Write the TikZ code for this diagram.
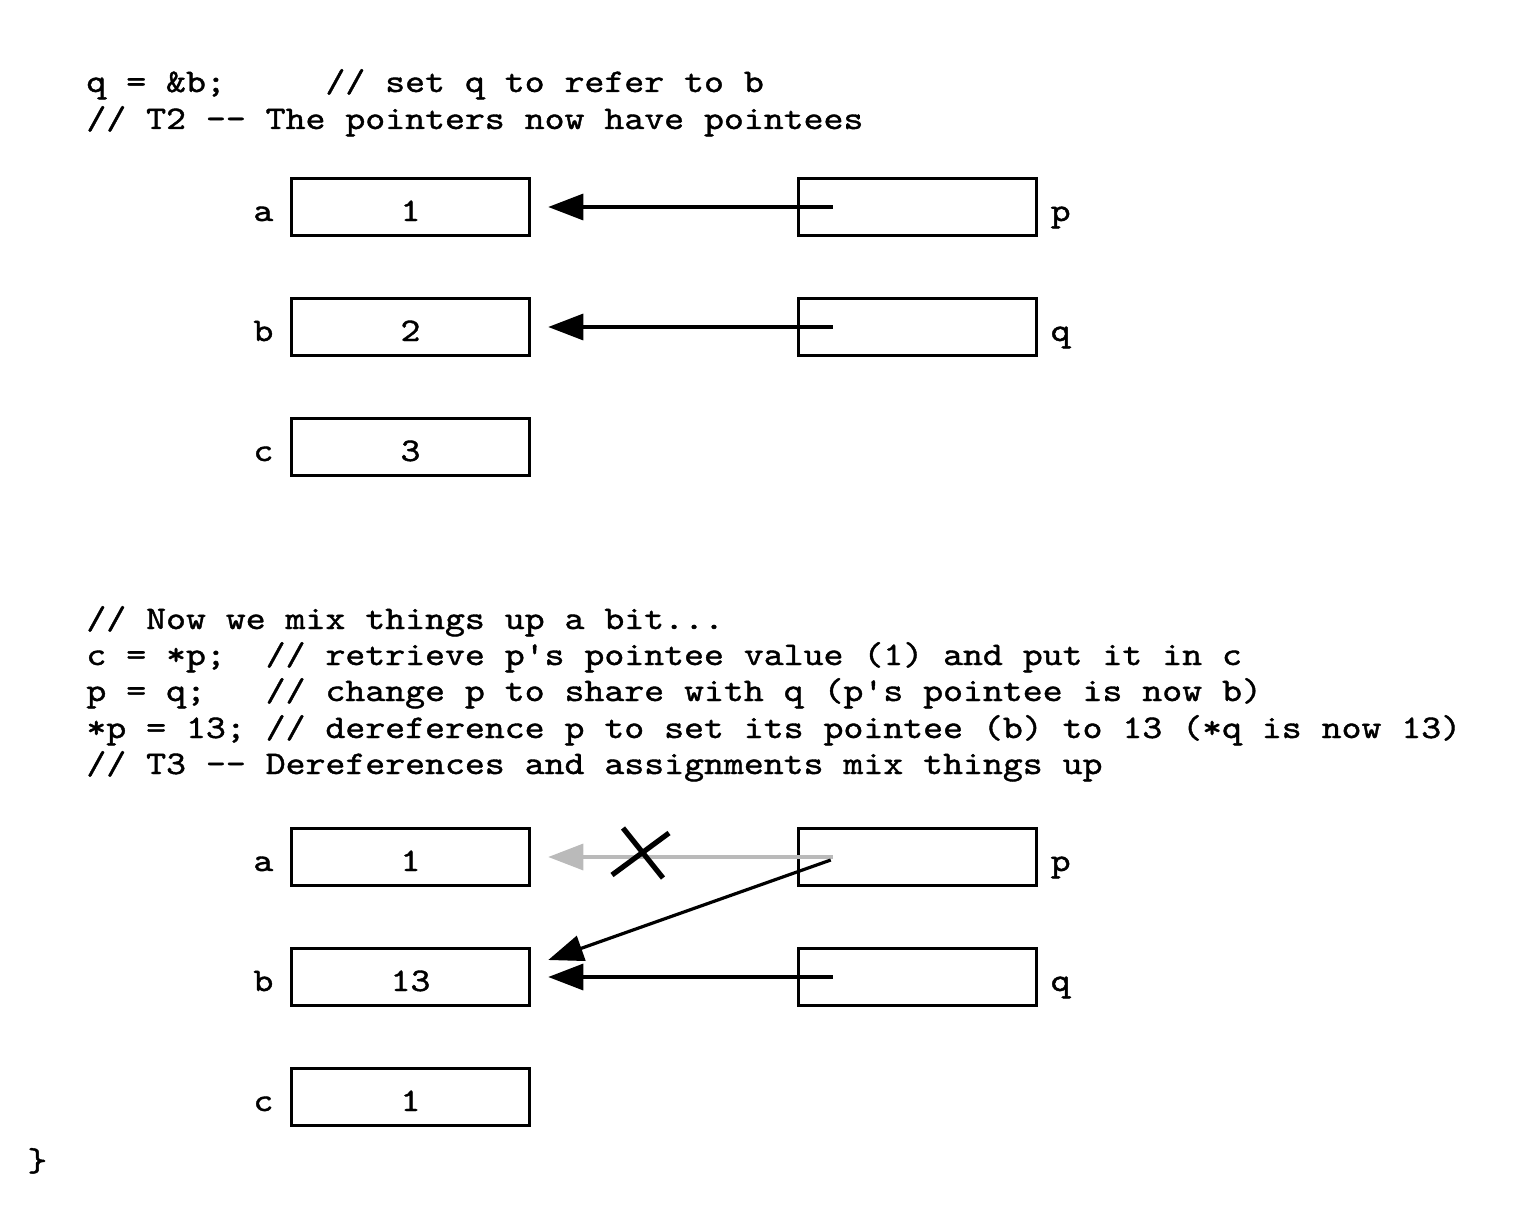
\documentclass[tikz,border=0pt]{standalone}
\usepackage{fontspec}
\setmonofont{lmmono10-regular.otf}[FakeBold=1.2, FakeStretch=1.15]
\usetikzlibrary{arrows.meta,positioning}

\tikzset{
  cell/.style={draw, line width=1.75pt, minimum width=119pt, minimum height=28.5pt,
    inner sep=0pt, text height=14pt, text depth=0pt},
  varname/.style={inner sep=0pt, text height=14pt, text depth=0pt},
  code/.style={anchor=base west, inner sep=0pt},
  ptr/.style={line width=1.6pt, -{Triangle[length=17.5pt,width=13pt]}},
}

\begin{document}
\begin{tikzpicture}[x=0.5pt, y=-0.5pt, font=\ttfamily\fontsize{16.5}{18}\selectfont]
    \useasboundingbox (0,0) rectangle (1514,1214);

    % Parameters
    \def\leftx{410.5}
    \def\rightx{917.5}

    % Code, first part
    \node[code] (line1) at (86,92) {q = \&b;~~~~~// set q to refer to b};
    \node[code] (line2) at (86,129) {// T2 -{}- The pointers now have pointees};

    % Memory at T2
    \node[cell] (a1) at (\leftx,207) {1};
    \node[cell] (b1) at (\leftx,327) {2};
    \node[cell] (c1) at (\leftx,447) {3};
    \node[cell] (p1) at (\rightx,207) {};
    \node[cell] (q1) at (\rightx,327) {};

    \node[varname, left=8pt of a1] (na1) {a};
    \node[varname, left=8pt of b1] (nb1) {b};
    \node[varname, left=8pt of c1] (nc1) {c};
    \node[varname, right=6pt of p1] (np1) {p};
    \node[varname, right=6pt of q1] (nq1) {q};

    % Pointers at T2
    \coordinate (p1tail) at ([xshift=18pt]p1.west);
    \coordinate (q1tail) at ([xshift=18pt]q1.west);
    \draw[ptr] (p1tail) -- ([xshift=8.5pt]a1.east);
    \draw[ptr] (q1tail) -- ([xshift=8.5pt]b1.east);

    % Code, second part
    \node[code] (line3) at (86,629) {// Now we mix things up a bit...};
    \node[code] (line4) at (86,665) {c = *p;~~// retrieve p's pointee value (1) and put it in c};
    \node[code] (line5) at (86,701) {p = q;~~~// change p to share with q (p's pointee is now b)};
    \node[code] (line6) at (86,738) {*p = 13; // dereference p to set its pointee (b) to 13 (*q is now 13)};
    \node[code] (line7) at (86,774) {// T3 -{}- Dereferences and assignments mix things up};

    % Memory at T3
    \node[cell] (a2) at (\leftx,857) {1};
    \node[cell] (b2) at (\leftx,977) {13};
    \node[cell] (c2) at (\leftx,1097) {1};
    \node[cell] (p2) at (\rightx,857) {};
    \node[cell] (q2) at (\rightx,977) {};

    \node[varname, left=8pt of a2] (na2) {a};
    \node[varname, left=8pt of b2] (nb2) {b};
    \node[varname, left=8pt of c2] (nc2) {c};
    \node[varname, right=6pt of p2] (np2) {p};
    \node[varname, right=6pt of q2] (nq2) {q};

    % Pointers at T3
    \coordinate (p2tail) at ([xshift=18pt]p2.west);
    \coordinate (q2tail) at ([xshift=18pt]q2.west);
    \draw[ptr, black!27] (p2tail) -- ([xshift=8.5pt]a2.east);
    \draw[ptr] ([xshift=17pt,yshift=-1.5pt]p2.west) -- ([xshift=8.5pt,yshift=8.5pt]b2.east);
    \draw[ptr] (q2tail) -- ([xshift=8.5pt]b2.east);

    % Cross over the old pointer
    \coordinate (cross) at (640,853);
    \draw[line width=2.6pt] ([shift={(-28,22)}]cross) -- ([shift={(29,-20)}]cross);
    \draw[line width=2.6pt] ([shift={(-17,-25)}]cross) -- ([shift={(23,25)}]cross);

    % Closing brace
    \node[code] (brace) at (27,1171) {\}};
\end{tikzpicture}
\end{document}
